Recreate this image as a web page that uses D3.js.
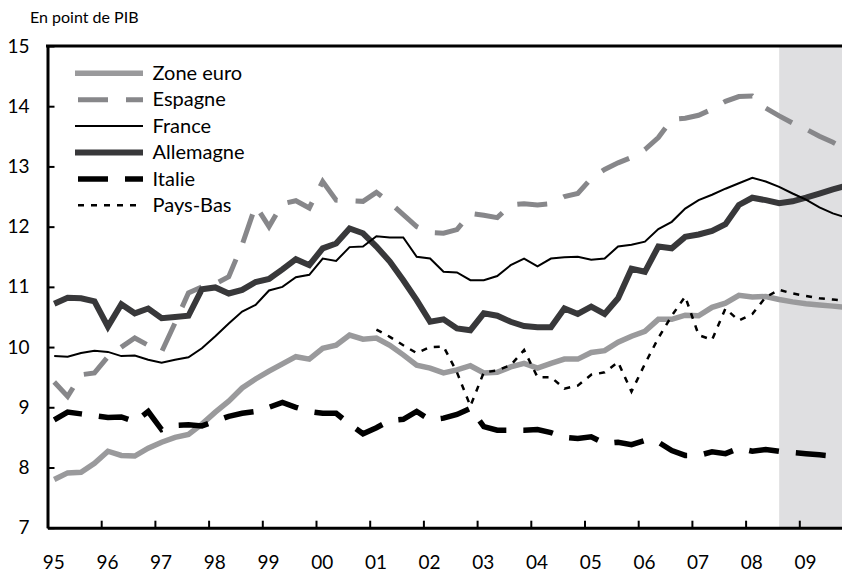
<!DOCTYPE html>
<html>
<head>
<meta charset="utf-8">
<script src="https://cdn.jsdelivr.net/npm/d3@7"></script>
<style>
body { margin: 0; background: #fff; }
svg text { font-family: Lato, "Open Sans", sans-serif; fill: #000; }
</style>
</head>
<body>
<div id="chart"></div>
<script>
const width = 842, height = 573;

// years on the x axis, one label per year (quarterly data, 1995Q1 -> 2009Q4)
const years = ["95","96","97","98","99","00","01","02","03","04","05","06","07","08","09"];
const yTicks = [7, 8, 9, 10, 11, 12, 13, 14, 15];
const forecastStart = 54; // quarter index where the shaded zone starts

const zoneEuro = [7.80,7.91,7.92,8.07, 8.27,8.20,8.19,8.32, 8.42,8.50,8.55,8.72, 8.92,9.10,9.32,9.47,
  9.60,9.72,9.84,9.80, 9.98,10.03,10.20,10.13, 10.15,10.03,9.87,9.70, 9.65,9.57,9.62,9.69,
  9.57,9.58,9.67,9.73, 9.65,9.73,9.80,9.80, 9.91,9.94,10.08,10.18, 10.26,10.46,10.46,10.53,
  10.52,10.66,10.73,10.86, 10.83,10.84,10.79,10.75, 10.72,10.70,10.68,10.66];
const espagne = [9.42,9.18,9.54,9.57, 9.84,10.0,10.15,10.03, 9.92,10.4,10.9,11.0, 11.05,11.17,11.7,12.35,
  12.0,12.38,12.43,12.31, 12.75,12.44,12.43,12.42, 12.57,12.40,12.2,12.0, 11.9,11.89,11.95,12.22,
  12.19,12.15,12.36,12.38, 12.36,12.38,12.5,12.55, 12.8,12.95,13.06,13.15, 13.28,13.48,13.78,13.80,
  13.85,13.95,14.08,14.16, 14.17,13.97,13.84,13.72, 13.62,13.5,13.4,13.28];
const france = [9.85,9.84,9.90,9.94, 9.92,9.85,9.86,9.79, 9.74,9.79,9.83,9.98, 10.18,10.39,10.59,10.70,
  10.94,11.0,11.16,11.20, 11.47,11.43,11.66,11.67, 11.84,11.82,11.82,11.50, 11.47,11.25,11.24,11.11,
  11.11,11.18,11.36,11.47, 11.34,11.47,11.49,11.50, 11.45,11.47,11.67,11.70, 11.75,11.96,12.08,12.30,
  12.44,12.53,12.63,12.72, 12.81,12.75,12.66,12.55, 12.45,12.32,12.22,12.15];
const allemagne = [10.72,10.82,10.81,10.76, 10.34,10.71,10.56,10.64, 10.48,10.50,10.52,10.96, 10.99,10.89,10.95,11.08,
  11.13,11.29,11.46,11.36, 11.64,11.72,11.97,11.89, 11.67,11.42,11.11,10.78, 10.42,10.46,10.31,10.28,
  10.56,10.52,10.42,10.35, 10.33,10.33,10.64,10.55, 10.67,10.55,10.81,11.30, 11.25,11.67,11.64,11.83,
  11.87,11.93,12.04,12.36, 12.48,12.44,12.39,12.42, 12.48,12.55,12.62,12.68];
const italie = [8.79,8.92,8.89,8.86, 8.83,8.84,8.76,8.93, 8.63,8.70,8.71,8.69, 8.77,8.85,8.90,8.93,
  9.0,9.08,9.0,8.93, 8.90,8.90,8.72,8.56, 8.66,8.78,8.80,8.93, 8.79,8.82,8.88,8.98,
  8.68,8.62,8.62,8.62, 8.63,8.58,8.50,8.48, 8.51,8.40,8.42,8.38, 8.45,8.42,8.28,8.20,
  8.20,8.26,8.23,8.32, 8.27,8.30,8.27,8.25, 8.23,8.21,8.19,8.18];
const paysBas = [null,null,null,null, null,null,null,null, null,null,null,null, null,null,null,null,
  null,null,null,null, null,null,null,null, 10.29,10.17,10.03,9.90, 10.0,10.01,9.58,9.02,
  9.58,9.61,9.70,9.95, 9.50,9.50,9.31,9.36, 9.54,9.58,9.75,9.26, 9.72,10.15,10.52,10.84,
  10.2,10.12,10.64,10.44, 10.55,10.83,10.95,10.89, 10.85,10.81,10.79,10.77];

const series = [
  { name: "Zone euro", values: zoneEuro,  color: "#9a9a9c", w: 5.5, dash: null },
  { name: "Espagne",   values: espagne,   color: "#87878a", w: 5,   dash: "30,18" },
  { name: "France",    values: france,    color: "#000",    w: 2,   dash: null },
  { name: "Allemagne", values: allemagne, color: "#38383a", w: 6,   dash: null },
  { name: "Italie",    values: italie,    color: "#000",    w: 5.5, dash: "30,17" },
  { name: "Pays-Bas",  values: paysBas,   color: "#000",    w: 2.5, dash: "6,7" }
];
// drawing order (France on top of Allemagne)
const drawOrder = ["Zone euro", "Espagne", "Allemagne", "Italie", "Pays-Bas", "France"];

const svg = d3.select("#chart").append("svg")
    .attr("width", width)
    .attr("height", height);

const x = d3.scaleLinear().domain([-0.5, 59.5]).range([47.5, 853]);
const y = d3.scaleLinear().domain([7, 15]).range([527.7, 46]);

// forecast zone
svg.append("rect")
    .attr("x", x(forecastStart))
    .attr("y", y(15))
    .attr("width", x(59.5) - x(forecastStart))
    .attr("height", y(7) - y(15))
    .attr("fill", "#dfdfe1");

// lines
const line = d3.line()
    .defined(d => d != null)
    .x((d, i) => x(i))
    .y(d => y(d));

drawOrder.forEach(n => {
    const s = series.find(d => d.name === n);
    svg.append("path")
        .attr("d", line(s.values))
        .attr("fill", "none")
        .attr("stroke", s.color)
        .attr("stroke-width", s.w)
        .attr("stroke-dasharray", s.dash);
});

// y axis (inward ticks)
const yAxis = svg.append("g")
    .attr("transform", `translate(${x(-0.5)},0)`)
    .call(d3.axisLeft(y).tickValues(yTicks).tickSizeInner(-7).tickSizeOuter(0).tickPadding(18));
yAxis.select(".domain").attr("stroke-width", 3);
yAxis.selectAll(".tick line").attr("stroke-width", 2);
yAxis.selectAll("text").attr("font-size", 19).style("font-family", "Lato, sans-serif");

// x axis: ticks at year starts, labels under first quarter
const xAxis = svg.append("g")
    .attr("transform", `translate(0,${y(7)})`)
    .call(d3.axisBottom(x).tickValues(years.map((d, k) => 4 * k - 0.5)).tickSizeInner(-7).tickSizeOuter(0).tickFormat(""));
xAxis.select(".domain").attr("stroke-width", 3);
xAxis.selectAll(".tick line").attr("stroke-width", 2);

const xLabels = svg.append("g")
    .attr("transform", `translate(-1,${y(7)})`)
    .call(d3.axisBottom(x).tickValues(years.map((d, k) => 4 * k)).tickSize(0).tickPadding(28)
        .tickFormat((d, k) => years[k]));
xLabels.select(".domain").remove();
xLabels.selectAll("text").attr("font-size", 19).style("font-family", "Lato, sans-serif");

// top border
svg.append("line")
    .attr("x1", x(-0.5) - 1.5).attr("x2", width + 10)
    .attr("y1", y(15)).attr("y2", y(15))
    .attr("stroke", "#000")
    .attr("stroke-width", 3);

// unit
svg.append("text")
    .attr("x", 30)
    .attr("y", 22.5)
    .attr("font-size", 16)
    .text("En point de PIB");

// legend
const legend = svg.append("g");
series.forEach((s, k) => {
    const ly = 73.3 + k * 26.4;
    legend.append("line")
        .attr("x1", s.dash ? 78 : 75).attr("x2", 143)
        .attr("y1", ly).attr("y2", ly)
        .attr("stroke", s.color)
        .attr("stroke-width", s.w)
        .attr("stroke-dasharray", s.dash);
    legend.append("text")
        .attr("x", 152.5)
        .attr("y", ly)
        .attr("dy", "0.33em")
        .attr("font-size", 20)
        .text(s.name);
});
</script>
</body>
</html>
